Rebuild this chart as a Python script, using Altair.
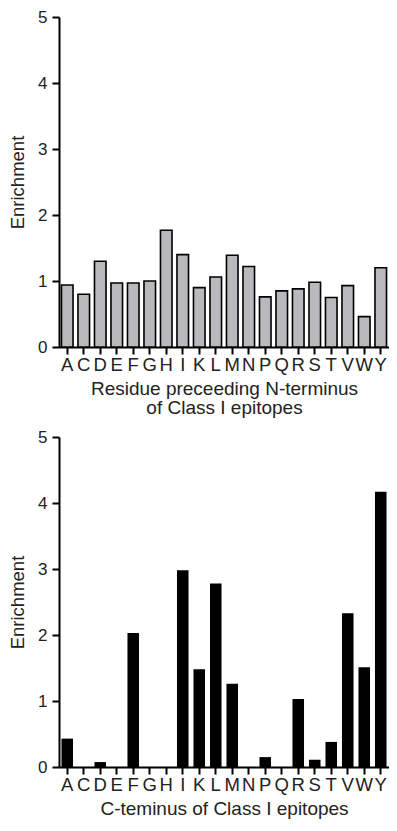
import altair as alt
import pandas as pd

residues = ["A", "C", "D", "E", "F", "G", "H", "I", "K", "L",
            "M", "N", "P", "Q", "R", "S", "T", "V", "W", "Y"]
n_term_enrichment = [0.94, 0.80, 1.30, 0.97, 0.97, 1.00, 1.77, 1.40, 0.90, 1.06,
                     1.39, 1.22, 0.76, 0.85, 0.88, 0.98, 0.75, 0.93, 0.46, 1.20]
c_term_enrichment = [0.43, 0.0, 0.075, 0.0, 2.03, 0.0, 0.0, 2.98, 1.48, 2.78,
                     1.26, 0.0, 0.15, 0.0, 1.03, 0.11, 0.38, 2.33, 1.51, 4.17]
y_ticks = [0, 1, 2, 3, 4, 5]
top_title = ["Residue preceeding N-terminus", "of Class I epitopes"]
bottom_title = "C-teminus of Class I epitopes"
y_title = "Enrichment"

FONT = "Liberation Sans"


def panel(values, xtitle, fill, stroke_width):
    df = pd.DataFrame({"residue": residues, "enrichment": values})
    mark_kwargs = dict(fill=fill)
    if stroke_width > 0:
        mark_kwargs.update(stroke="black", strokeWidth=stroke_width)
    return (
        alt.Chart(df)
        .mark_bar(**mark_kwargs)
        .encode(
            x=alt.X(
                "residue:N",
                sort=residues,
                scale=alt.Scale(paddingInner=0.3, paddingOuter=0.15),
                axis=alt.Axis(
                    title=xtitle,
                    labelAngle=0,
                    labelFontSize=18.5,
                    labelPadding=1,
                    titlePadding=6,
                    titleLineHeight=19,
                ),
            ),
            y=alt.Y(
                "enrichment:Q",
                scale=alt.Scale(domain=[0, 5], nice=False),
                axis=alt.Axis(
                    title=y_title,
                    values=y_ticks,
                    grid=False,
                    labelFontSize=17,
                    labelPadding=5,
                    titlePadding=10,
                    titleFontSize=18.5,
                ),
            ),
        )
        .properties(width=330, height=330)
    )


top = panel(n_term_enrichment, top_title, "#b8b9bd", 1.6)
bottom = panel(c_term_enrichment, bottom_title, "black", 0)

chart = (
    alt.vconcat(top, bottom, spacing=10)
    .properties(padding={"top": 0, "left": 0, "right": 0, "bottom": 0})
    .configure_view(stroke=None)
    .configure_axis(
        domainColor="black",
        domainWidth=2,
        tickColor="black",
        tickWidth=2,
        tickSize=7,
        labelFont=FONT,
        labelColor="#222222",
        titleFont=FONT,
        titleFontSize=19,
        titleFontWeight="normal",
        titleColor="#222222",
    )
)

chart.save("out.html", embed_options={"renderer": "svg", "actions": False})
